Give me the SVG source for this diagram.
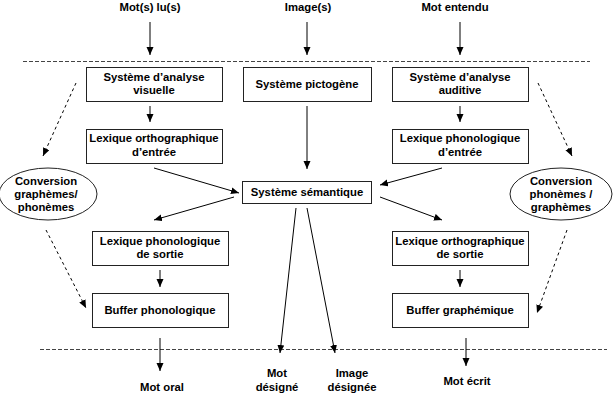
<svg xmlns="http://www.w3.org/2000/svg" width="613" height="402" viewBox="0 0 613 402">
<defs>
<marker id="ah" markerWidth="8" markerHeight="8" refX="8" refY="3.5" orient="auto" markerUnits="userSpaceOnUse">
<path d="M0,0 L8,3.5 L0,7 z" fill="#000"/>
</marker>
<style>
text{font-family:"Liberation Sans",Arial,sans-serif;font-weight:bold;font-size:11.3px;fill:#000;text-anchor:middle}
.box{fill:#fff;stroke:#222;stroke-width:1}
.ell{fill:#fff;stroke:#222;stroke-width:1}
.ln{stroke:#000;stroke-width:1;fill:none;marker-end:url(#ah)}
.dl{stroke:#000;stroke-width:1;fill:none;stroke-dasharray:3,3;marker-end:url(#ah)}
.sep{stroke:#444;stroke-width:1;stroke-dasharray:4,2;fill:none}
</style>
</defs>
<rect width="613" height="402" fill="#fff"/>
<g id="separators">
<line class="sep" x1="23" y1="61.5" x2="590" y2="61.5"/>
<line class="sep" x1="40" y1="349.5" x2="607" y2="349.5"/>
</g>
<g id="connectors">
<line class="ln" x1="150" y1="22" x2="150" y2="55"/>
<line class="ln" x1="307" y1="22" x2="307" y2="55"/>
<line class="ln" x1="460" y1="22" x2="460" y2="55"/>
<line class="ln" x1="150" y1="106" x2="150" y2="122"/>
<line class="ln" x1="460" y1="106" x2="460" y2="122"/>
<line class="ln" x1="307" y1="106" x2="307" y2="169"/>
<line class="ln" x1="154" y1="168" x2="239" y2="193"/>
<line class="ln" x1="234" y1="197" x2="154" y2="220"/>
<line class="ln" x1="442" y1="168" x2="380" y2="185"/>
<line class="ln" x1="380" y1="197" x2="442" y2="220"/>
<line class="ln" x1="160" y1="270" x2="160" y2="287"/>
<line class="ln" x1="460" y1="270" x2="460" y2="287"/>
<line class="ln" x1="296" y1="208" x2="280" y2="353"/>
<line class="ln" x1="307" y1="208" x2="335" y2="353"/>
<line class="ln" x1="160" y1="338" x2="160" y2="371"/>
<line class="ln" x1="466" y1="338" x2="466" y2="366"/>
<line class="dl" x1="76" y1="83" x2="43" y2="156"/>
<line class="dl" x1="46" y1="230" x2="86" y2="308"/>
<line class="dl" x1="538" y1="83" x2="572" y2="156"/>
<line class="dl" x1="567" y1="230" x2="537" y2="313"/>
</g>
<g id="inputs">
<text x="150" y="11">Mot(s) lu(s)</text>
<text x="308" y="11">Image(s)</text>
<text x="455" y="11">Mot entendu</text>
</g>
<g id="analyse-visuelle">
<rect class="box" x="86.5" y="67.5" width="136" height="34"/>
<text x="154" y="81">Système d’analyse</text>
<text x="154" y="94">visuelle</text>
</g>
<g id="pictogene">
<rect class="box" x="243.5" y="67.5" width="128" height="34"/>
<text x="307" y="88">Système pictogène</text>
</g>
<g id="analyse-auditive">
<rect class="box" x="392.5" y="67.5" width="136" height="34"/>
<text x="460" y="81">Système d’analyse</text>
<text x="460" y="94">auditive</text>
</g>
<g id="lexique-ortho-entree">
<rect class="box" x="86.5" y="129.5" width="136" height="34"/>
<text x="154" y="142">Lexique orthographique</text>
<text x="154" y="156">d’entrée</text>
</g>
<g id="lexique-phono-entree">
<rect class="box" x="392.5" y="129.5" width="136" height="34"/>
<text x="460" y="142">Lexique phonologique</text>
<text x="460" y="156">d’entrée</text>
</g>
<g id="semantique">
<rect class="box" x="242.5" y="181.5" width="129" height="22"/>
<text x="307" y="196">Système sémantique</text>
</g>
<g id="conversion-gp">
<ellipse class="ell" cx="48" cy="194" rx="49" ry="26"/>
<text x="46" y="185">Conversion</text>
<text x="46" y="198">graphèmes/</text>
<text x="46" y="211">phonèmes</text>
</g>
<g id="conversion-pg">
<ellipse class="ell" cx="561" cy="194" rx="51" ry="26"/>
<text x="561" y="185">Conversion</text>
<text x="561" y="198">phonèmes /</text>
<text x="561" y="211">graphèmes</text>
</g>
<g id="lexique-phono-sortie">
<rect class="box" x="92.5" y="231.5" width="136" height="34"/>
<text x="160" y="245">Lexique phonologique</text>
<text x="160" y="258">de sortie</text>
</g>
<g id="lexique-ortho-sortie">
<rect class="box" x="392.5" y="231.5" width="136" height="34"/>
<text x="460" y="245">Lexique orthographique</text>
<text x="460" y="258">de sortie</text>
</g>
<g id="buffer-phono">
<rect class="box" x="92.5" y="293.5" width="136" height="34"/>
<text x="160" y="314">Buffer phonologique</text>
</g>
<g id="buffer-graph">
<rect class="box" x="392.5" y="293.5" width="136" height="34"/>
<text x="460" y="314">Buffer graphémique</text>
</g>
<g id="outputs">
<text x="162" y="391">Mot oral</text>
<text x="277" y="377">Mot</text>
<text x="277" y="391">désigné</text>
<text x="352" y="377">Image</text>
<text x="352" y="391">désignée</text>
<text x="467" y="385">Mot écrit</text>
</g>
</svg>
